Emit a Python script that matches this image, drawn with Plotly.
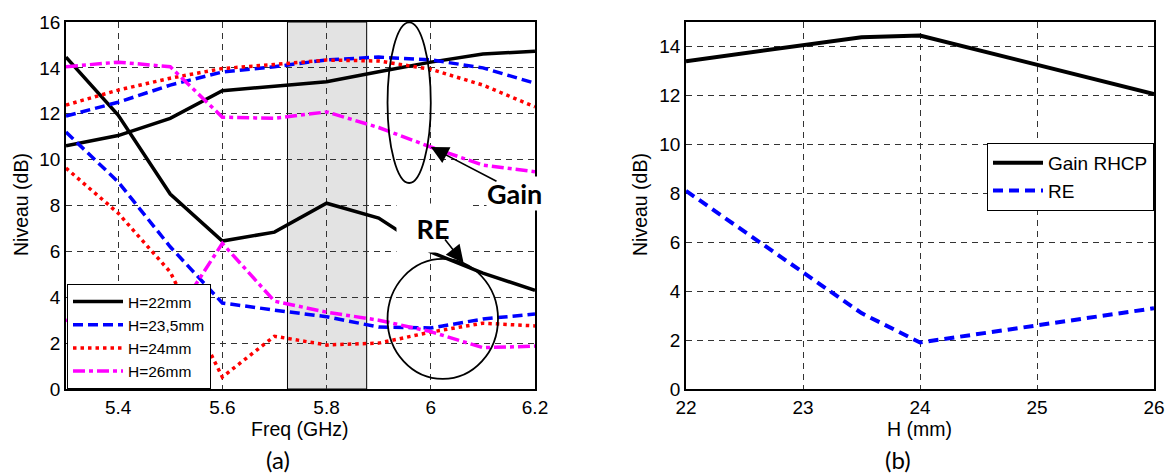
import plotly.graph_objects as go

# ---------------- data ----------------
freq = [5.3, 5.4, 5.5, 5.6, 5.7, 5.8, 5.9, 6.0, 6.1, 6.2]
gain_h22 = [10.6, 11.05, 11.8, 13.0, 13.2, 13.4, 13.83, 14.25, 14.6, 14.73]
gain_h235 = [11.9, 12.5, 13.25, 13.82, 14.05, 14.35, 14.47, 14.35, 14.0, 13.33]
gain_h24 = [12.38, 13.03, 13.55, 13.97, 14.15, 14.34, 14.3, 13.94, 13.25, 12.3]
gain_h26 = [14.05, 14.25, 14.05, 11.85, 11.8, 12.08, 11.4, 10.55, 9.76, 9.47]
re_h22 = [14.47, 11.94, 8.5, 6.45, 6.84, 8.1, 7.45, 5.97, 5.05, 4.3]
re_h235 = [11.2, 9.03, 6.2, 3.75, 3.44, 3.15, 2.7, 2.66, 3.05, 3.27]
re_h24 = [9.63, 7.67, 5.1, 0.52, 2.3, 1.92, 2.0, 2.48, 2.87, 2.75]
re_h26 = [3.0, 2.6, 2.84, 6.35, 3.83, 3.35, 3.0, 2.5, 1.8, 1.87]

series_names = ["H=22mm", "H=23,5mm", "H=24mm", "H=26mm"]

h_mm = [22, 23.5, 24, 26]
gain_rhcp = [13.4, 14.38, 14.45, 12.05]
re_b = [8.1, 3.1, 1.9, 3.3]

freq_ticks = [5.4, 5.6, 5.8, 6.0, 6.2]
freq_ticktext = ["5.4", "5.6", "5.8", "6", "6.2"]

W, H = 1171, 476
def px(v): return v / W
def py(v): return 1 - v / H

styles = [
    dict(color="black", width=3.5, dash="solid"),
    dict(color="#0000ff", width=3.5, dash="10px,5px"),
    dict(color="#ff0000", width=3.5, dash="3.5px,4px"),
    dict(color="#ff00ff", width=3.5, dash="12px,4px,4px,4px"),
]

fig = go.Figure()
gains = [gain_h22, gain_h235, gain_h24, gain_h26]
res = [re_h22, re_h235, re_h24, re_h26]
for name, g, r, st in zip(series_names, gains, res, styles):
    fig.add_trace(go.Scatter(x=freq, y=g, mode="lines", line=st, name=name,
                             legend="legend", legendgroup=name, xaxis="x", yaxis="y"))
    fig.add_trace(go.Scatter(x=freq, y=r, mode="lines", line=st, name=name,
                             showlegend=False, legendgroup=name, xaxis="x", yaxis="y"))

fig.add_trace(go.Scatter(x=h_mm, y=gain_rhcp, mode="lines", name="Gain RHCP",
                         line=dict(color="black", width=4), legend="legend2",
                         xaxis="x2", yaxis="y2"))
fig.add_trace(go.Scatter(x=h_mm, y=re_b, mode="lines", name="RE",
                         line=dict(color="#0000ff", width=4, dash="10px,6px"),
                         legend="legend2", xaxis="x2", yaxis="y2"))

tickfont = dict(family="Liberation Sans, Arial", size=19, color="black")
axis_common = dict(showline=True, linecolor="black", linewidth=1.5, mirror=True,
                   showgrid=True, gridcolor="#333333", gridwidth=1, griddash="6px,5px",
                   zeroline=False, ticks="", automargin=False)

ydom = [py(389), py(22)]
fig.update_layout(
    width=W, height=H,
    margin=dict(l=0, r=0, t=0, b=0),
    paper_bgcolor="white", plot_bgcolor="white",
    xaxis=dict(domain=[px(66), px(535)], range=[5.3, 6.2], tickvals=freq_ticks,
               ticktext=freq_ticktext, tickfont=tickfont, anchor="y", ticklabelstandoff=0,
               **axis_common),
    yaxis=dict(domain=ydom, range=[0, 16], dtick=2, tick0=0, tickfont=tickfont,
               anchor="x", **axis_common),
    xaxis2=dict(domain=[px(686), px(1154)], range=[22, 26], dtick=1, tick0=22,
                tickfont=tickfont, anchor="y2", ticklabelstandoff=0,
                **axis_common),
    yaxis2=dict(domain=ydom, range=[0, 15], tickvals=[0, 2, 4, 6, 8, 10, 12, 14],
                tickfont=tickfont, anchor="x2", **axis_common),
    legend=dict(x=px(67), y=py(389), xanchor="left", yanchor="bottom",
                bgcolor="white", bordercolor="black", borderwidth=1,
                font=dict(family="Liberation Sans, Arial", size=15.5, color="black"),
                itemwidth=50, tracegroupgap=0),
    legend2=dict(x=px(1154), y=py(143), xanchor="right", yanchor="top",
                 bgcolor="white", bordercolor="black", borderwidth=1,
                 font=dict(family="Liberation Sans, Arial", size=19, color="black"),
                 itemwidth=50),
    showlegend=True,
)

# shaded band
fig.add_shape(type="rect", xref="x", yref="y", x0=5.725, x1=5.877, y0=0, y1=16,
              fillcolor="#e3e3e3", line=dict(color="black", width=1), layer="below")
# ellipses
fig.add_shape(type="circle", xref="x", yref="y", x0=5.917, x1=6.0, y0=8.98, y1=15.98,
              line=dict(color="black", width=1.8))
fig.add_shape(type="circle", xref="x", yref="y", x0=5.917, x1=6.129, y0=0.44, y1=5.67,
              line=dict(color="black", width=1.8))

lab = dict(family="Lato, Open Sans", size=27, color="black")
fig.add_annotation(xref="x", yref="y", x=6.1615, y=8.54, text="<b>Gain</b>", showarrow=False,
                   font=lab, bgcolor="white", borderpad=0, xanchor="center", yanchor="middle")
fig.add_annotation(xref="x", yref="y", x=5.9327, y=5.93, xanchor="left", yanchor="bottom",
                   text="<b>RE</b>", showarrow=False, font=lab, bgcolor="white",
                   width=72, height=48, borderpad=0)
fig.add_annotation(xref="x", yref="y", axref="x", ayref="y", x=6.0, y=10.55, ax=6.129, ay=9.02,
                   text="", showarrow=True, arrowhead=2, arrowsize=2.2, arrowwidth=1.6,
                   arrowcolor="black", standoff=0)
fig.add_annotation(xref="x", yref="y", axref="x", ayref="y", x=6.063, y=5.49, ax=6.025, ay=6.58,
                   text="", showarrow=True, arrowhead=2, arrowsize=2.2, arrowwidth=1.6,
                   arrowcolor="black", standoff=0)

tfont = dict(family="Liberation Sans, Arial", size=19.5, color="black")
def label(x, y, text, font, angle=0):
    fig.add_annotation(xref="paper", yref="paper", x=px(x), y=py(y), text=text,
                       textangle=angle, showarrow=False, font=font,
                       xanchor="center", yanchor="middle")

label(21, 205, "Niveau (dB)", tfont, -90)
label(640, 205, "Niveau (dB)", tfont, -90)
label(300, 429, "Freq (GHz)", tfont)
label(919, 429, "H (mm)", tfont)
cfont = dict(family="Lato, Open Sans", size=24, color="black")
label(278, 459, "(a)", cfont)
label(898, 459, "(b)", cfont)

fig.write_html("out.html", post_script="document.body.style.margin='0';",
               config={"displayModeBar": False})
